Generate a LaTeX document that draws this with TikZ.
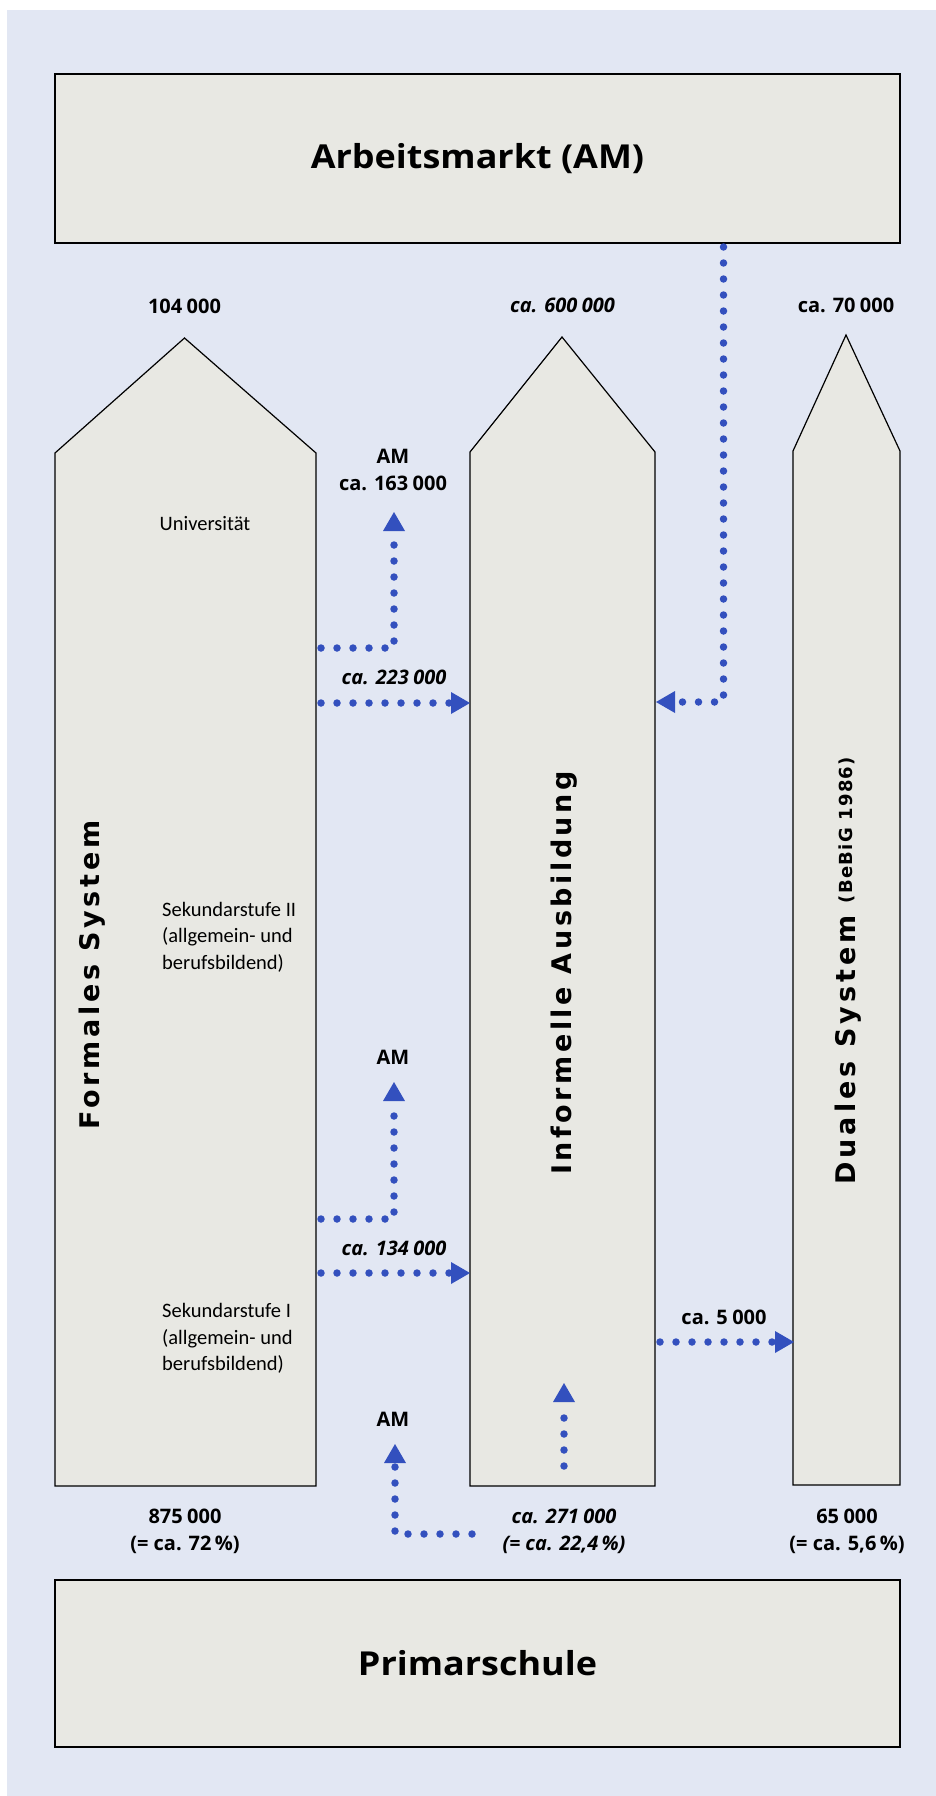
\documentclass[tikz,border=0pt]{standalone}
\usepackage{fontspec}
\setmainfont{Open Sans}
\newfontfamily\headfont{Open Sans}[FakeStretch=1.09]
\newfontfamily\formfont{DejaVu Sans}[LetterSpace=13.5]
\newfontfamily\infofont{DejaVu Sans}[LetterSpace=13]
\newfontfamily\dualfont{DejaVu Sans}[LetterSpace=15]
\newfontfamily\bebigfont{DejaVu Sans}[LetterSpace=7]
\newfontfamily\lightfont{Carlito}
\newcommand{\gp}{\hspace{0.22em}}
\usetikzlibrary{arrows.meta}
\definecolor{bgblue}{HTML}{E2E7F3}
\definecolor{boxgrey}{HTML}{E8E8E3}
\definecolor{dotblue}{HTML}{3350BE}
\tikzset{
  box/.style={draw=black, line width=1.2pt, fill=boxgrey},
  flow/.style={draw=dotblue, line width=7.5pt, line cap=round, dash pattern=on 0pt off 16pt},
  flowarrow/.style={flow, -{Triangle[length=19pt, width=22pt, line width=0pt]}},
  num/.style={font=\bfseries\fontsize{20}{27}\selectfont, align=center, inner sep=0pt},
  inum/.style={font=\bfseries\itshape\fontsize{20}{27}\selectfont, align=center, inner sep=0pt},
  stage/.style={font=\lightfont\fontsize{20.5}{26.5}\selectfont, align=left, anchor=west, inner sep=0pt},
  vtitle/.style={rotate=90, inner sep=0pt},
  heading/.style={font=\headfont\bfseries\fontsize{33}{40}\selectfont, inner sep=0pt},
}
\begin{document}
\begin{tikzpicture}[x=1pt, y=-1pt]
\useasboundingbox (0,0) rectangle (936,1796);
\fill[white] (0,0) rectangle (936,1796);
\fill[bgblue] (7,10) rectangle (936,1796);

% top and bottom boxes
\node[box, heading, minimum width=845pt, minimum height=169pt] (am) at (477.5,158.5) {Arbeitsmarkt (AM)};
\node[box, heading, minimum width=845pt, minimum height=167pt] (prim) at (477.5,1663.5) {Primarschule};

% columns
\draw[box] (55,1486) -- (55,453) -- (184.5,338) -- (316,453) -- (316,1486) -- cycle;
\draw[box] (470,1486) -- (470,452) -- (562,337) -- (655,452) -- (655,1486) -- cycle;
\draw[box] (793,1485) -- (793,451) -- (846,335) -- (900,451) -- (900,1485) -- cycle;

% column titles
\node[vtitle, font=\formfont\bfseries\fontsize{27}{30}\selectfont] (tform) at (92,975) {Formales System};
\node[vtitle, font=\infofont\bfseries\fontsize{27}{30}\selectfont] (tinfo) at (564,973) {Informelle Ausbildung};
\node[vtitle, font=\dualfont\bfseries\fontsize{27}{30}\selectfont] (tdual) at (848,971) {Duales System\hspace{12pt}\raisebox{3pt}{\bebigfont\bfseries\fontsize{18}{20}\selectfont(BeBiG 1986)}};

% top numbers
\node[num] (n104) at (184.5,306) {104\gp000};
\node[inum] (n600) at (562.5,305) {ca. 600\gp000};
\node[num] (n70) at (846,305) {ca. 70\gp000};

% stage texts
\node[font=\lightfont\fontsize{20.5}{26.5}\selectfont, inner sep=0pt] (uni) at (205,524) {Universität};
\node[stage] (sek2) at (162,937) {Sekundarstufe II\\(allgemein- und\\berufsbildend)};
\node[stage] (sek1) at (162,1338.5) {Sekundarstufe I\\(allgemein- und\\berufsbildend)};

% labels
\node[num] (am1) at (393,470) {AM\\ca. 163\gp000};
\node[inum] (l223) at (394,677) {ca. 223\gp000};
\node[num] (am2) at (393,1057) {AM};
\node[inum] (l134) at (394,1248) {ca. 134\gp000};
\node[num] (l5) at (724,1317) {ca. 5\gp000};
\node[num] (am3) at (393,1419) {AM};

% bottom numbers
\node[num] (b875) at (185,1531.5) {875\gp000\\(= ca. 72\,\%)};
\node[inum] (b271) at (564,1531.5) {ca. 271\gp000\\(= ca. 22,4\,\%)};
\node[num] (b65) at (847,1531.5) {65\gp000\\(= ca. 5,6\,\%)};

% connector coordinates
\coordinate (f1) at (321,648);
\coordinate (c1) at (394,648);
\coordinate (t1) at (394,512);
\coordinate (f2) at (321,703);
\coordinate (i2) at (470,703);
\coordinate (a3) at (723.5,247);
\coordinate (c3) at (723.5,702);
\coordinate (i3) at (656,702);
\coordinate (f4) at (321,1219);
\coordinate (c4) at (394,1219);
\coordinate (t4) at (394,1082);
\coordinate (f5) at (321,1273);
\coordinate (i5) at (470,1273);
\coordinate (i6) at (660,1342);
\coordinate (d6) at (794,1342);
\coordinate (s7) at (564,1466);
\coordinate (t7) at (564,1383);
\coordinate (s8) at (472,1534);
\coordinate (c8) at (395,1534);
\coordinate (t8) at (395,1444);

\draw[flowarrow] (f1) -- (c1) -- (t1);
\draw[flowarrow] (f2) -- (i2);
\draw[flowarrow] (a3) -- (c3) -- (i3);
\draw[flowarrow] (f4) -- (c4) -- (t4);
\draw[flowarrow] (f5) -- (i5);
\draw[flowarrow] (i6) -- (d6);
\draw[flowarrow] (s7) -- (t7);
\draw[flowarrow] (s8) -- (c8) -- (t8);
\end{tikzpicture}
\end{document}
